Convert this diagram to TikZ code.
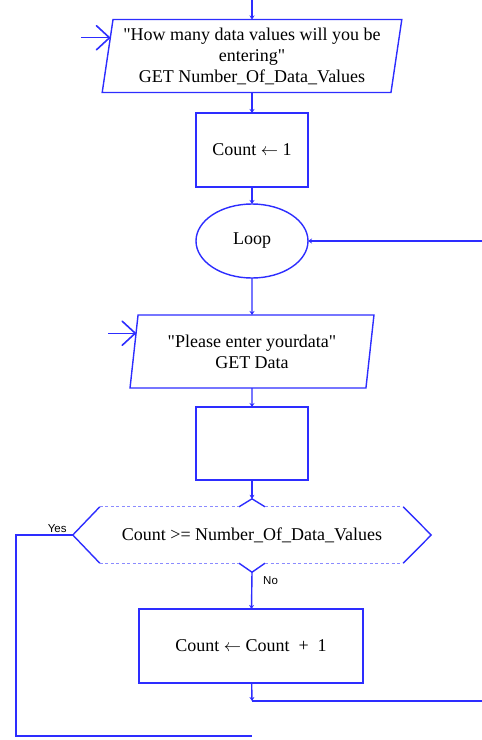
\documentclass[tikz,border=0pt]{standalone}
\usepackage{fontspec}
\setmainfont{Liberation Serif}
\newfontfamily\tagfont{Liberation Sans}
\usetikzlibrary{shapes.geometric,arrows.meta,calc}
\definecolor{flowblue}{RGB}{45,45,255}
\tikzset{
  flow/.style={draw=flowblue, line width=1.4pt},
  txt/.style={font=\fontsize{18}{21}\selectfont, align=center},
  procbox/.style={flow, txt, rectangle, minimum width=112pt, minimum height=74pt, inner sep=0pt, outer sep=0pt},
  loopbox/.style={flow, txt, ellipse, minimum width=112pt, minimum height=74pt, inner sep=0pt, outer sep=0pt},
  iobox/.style={flow, txt, trapezium, trapezium left angle=80, trapezium right angle=100,
    trapezium stretches=true, minimum height=73pt, inner sep=0pt, outer sep=0pt},
  link/.style={flow, -{Stealth[length=4pt,width=5pt]}},
  entry/.style={flow, -{Straight Barb[length=13pt,width=24pt,line width=1.6pt,round]}},
  dashedge/.style={draw=flowblue!55, line width=1.2pt, dash pattern=on 3pt off 2.5pt},
  tag/.style={font=\tagfont\fontsize{11.5}{12}\selectfont, inner sep=1pt}
}
\begin{document}
\begin{tikzpicture}[x=1pt,y=-1pt]
  \useasboundingbox (0,0) rectangle (482,740);
  % main column
  \coordinate (start) at (252,0);
  \node[iobox, minimum width=300pt] (askcount) at (252,56)
    {\textquotedbl How many data values will you be\\ entering\textquotedbl\\ GET Number\_Of\_Data\_Values};
  \node[procbox] (init) at (252,150) {Count $\leftarrow$ 1};
  \node[loopbox] (loop) at (252,241) {Loop};
  \node[iobox, minimum width=244pt] (askdata) at (252,351.5)
    {\textquotedbl Please enter yourdata\textquotedbl\\ GET Data};
  \node[procbox, minimum height=73pt] (body) at (252,443.5) {};
  \node[txt, minimum width=358pt, minimum height=56pt, inner sep=0pt] (cond) at (252,535)
    {Count >= Number\_Of\_Data\_Values};
  \node[procbox, minimum width=224pt] (incr) at (251,646) {Count $\leftarrow$ Count\ \ +\ \ 1};

  % decision outline
  \coordinate (condin) at ($(cond.north)+(0,-8)$);
  \coordinate (condout) at ($(cond.south)+(0,9)$);
  \draw[flow] ($(cond.north west)+(27,0)$) -- (cond.west) -- ($(cond.south west)+(27,0)$);
  \draw[flow] ($(cond.north east)+(-28,0)$) -- (cond.east) -- ($(cond.south east)+(-28,0)$);
  \draw[flow] ($(cond.north)+(-13,0)$) -- (condin) -- ($(cond.north)+(13,0)$);
  \draw[flow] ($(cond.south)+(-13,0)$) -- (condout) -- ($(cond.south)+(13,0)$);
  \draw[dashedge] ($(cond.north west)+(27,0)$) -- ($(cond.north)+(-13,0)$);
  \draw[dashedge] ($(cond.north)+(13,0)$) -- ($(cond.north east)+(-28,0)$);
  \draw[dashedge] ($(cond.south west)+(27,0)$) -- ($(cond.south)+(-13,0)$);
  \draw[dashedge] ($(cond.south)+(13,0)$) -- ($(cond.south east)+(-28,0)$);

  % connectors
  \draw[link] (start) -- (askcount);
  \draw[link] (askcount) -- (init);
  \draw[link] (init) -- (loop);
  \draw[link] (loop) -- (askdata);
  \draw[link] (askdata) -- (body);
  \draw[link] (body) -- (condin);
  \draw[link] (condout) -- (incr);
  \coordinate (back) at (252,701);
  \coordinate (backend) at (482,701);
  \draw[link] (incr) -- (back);
  \draw[flow] (back) -- (backend);
  \coordinate (loopin) at (482,241);
  \draw[link] (loopin) -- (loop.east);

  % yes branch
  \coordinate (yescorner) at (16,736);
  \coordinate (yesend) at (252,736);
  \draw[flow] (cond.west) -| (yescorner) -- (yesend);
  \node[tag, anchor=south east] (yes) at ($(cond.west)+(-5,-1)$) {Yes};
  \node[tag, anchor=west] (no) at ($(condout)+(10,8)$) {No};

  % input entries
  \coordinate (askcountpt) at ($(askcount.top left corner)!0.25!(askcount.bottom left corner)$);
  \coordinate (askcountfrom) at ($(askcountpt)+(-29,0)$);
  \draw[entry] (askcountfrom) -- (askcountpt);
  \coordinate (askdatapt) at ($(askdata.top left corner)!0.25!(askdata.bottom left corner)$);
  \coordinate (askdatafrom) at ($(askdatapt)+(-28,0)$);
  \draw[entry] (askdatafrom) -- (askdatapt);
\end{tikzpicture}
\end{document}
